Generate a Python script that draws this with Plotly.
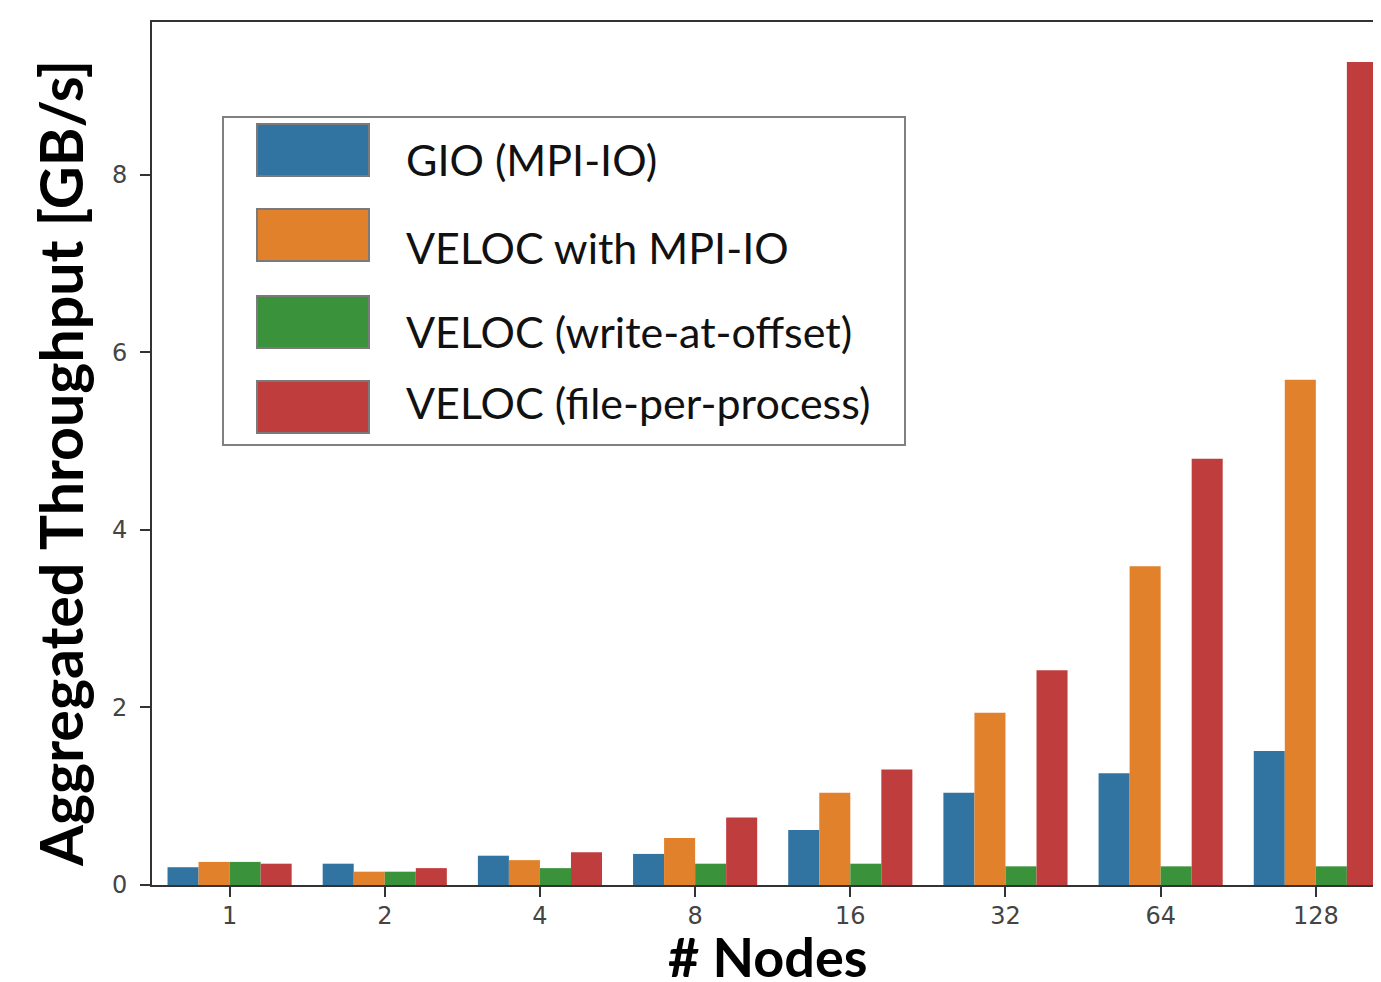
import plotly.graph_objects as go

nodes = ["1", "2", "4", "8", "16", "32", "64", "128"]
series_names = ["GIO (MPI-IO)", "VELOC with MPI-IO", "VELOC (write-at-offset)", "VELOC (file-per-process)"]
gio = [0.20, 0.24, 0.33, 0.35, 0.62, 1.04, 1.26, 1.51]
veloc_mpiio = [0.26, 0.15, 0.28, 0.53, 1.04, 1.94, 3.59, 5.69]
veloc_offset = [0.26, 0.15, 0.19, 0.24, 0.24, 0.21, 0.21, 0.21]
veloc_fpp = [0.24, 0.19, 0.37, 0.76, 1.30, 2.42, 4.80, 9.27]
colors = ["#3274a1", "#e1812c", "#3a923a", "#c03d3e"]
y_ticks = [0, 2, 4, 6, 8]

OFF = 8  # page body margin
W, H = 1381 - OFF, 982 - OFF
L, T, BOT = 152 - OFF, 22 - OFF, 885 - OFF  # plot area edges in figure pixels
PW, PH = W - L, BOT - T


def px(x):
    return (x - OFF - L) / PW


def py(y):
    return (BOT - (y - OFF)) / PH


fig = go.Figure()
for name, vals, c in zip(series_names, [gio, veloc_mpiio, veloc_offset, veloc_fpp], colors):
    fig.add_trace(go.Bar(x=list(range(len(nodes))), y=vals, name=name, marker=dict(color=c, line=dict(width=0)),
                         showlegend=False))

# custom legend (large swatches like the reference)
shapes = [dict(type="rect", xref="paper", yref="paper",
               x0=px(223), x1=px(905), y0=py(445), y1=py(117),
               line=dict(color="#808080", width=2), fillcolor="white", layer="above")]
annotations = []
sw_centers = [150, 235, 322, 407]
tx_centers = [160, 248, 332, 403]
for name, c, yc, ty in zip(series_names, colors, sw_centers, tx_centers):
    shapes.append(dict(type="rect", xref="paper", yref="paper",
                       x0=px(257), x1=px(369), y0=py(yc + 26), y1=py(yc - 26),
                       line=dict(color="#7a7a7a", width=2), fillcolor=c, layer="above"))
    annotations.append(dict(text=name, xref="paper", yref="paper", x=px(404),
                            y=py(ty - 1), xanchor="left", yanchor="middle", showarrow=False,
                            font=dict(family="Lato, Open Sans, sans-serif", size=43, color="#111")))

annotations.append(dict(text="<b>Aggregated Throughput [GB/s]</b>", xref="paper", yref="paper",
                        x=px(60), y=py(464), textangle=-90,
                        xanchor="center", yanchor="middle", showarrow=False,
                        font=dict(family="Lato, Open Sans, sans-serif", size=59, color="black")))
annotations.append(dict(text="<b># Nodes</b>", xref="paper", yref="paper",
                        x=px(767), y=py(957),
                        xanchor="center", yanchor="middle", showarrow=False,
                        font=dict(family="Lato, Open Sans, sans-serif", size=54, color="black")))

fig.update_layout(
    width=W, height=H,
    margin=dict(l=L, r=0, t=T, b=H - BOT),
    plot_bgcolor="white", paper_bgcolor="white",
    barmode="group", bargap=0.2, bargroupgap=0,
    shapes=shapes, annotations=annotations,
    xaxis=dict(range=[-0.5, 7.42], tickmode="array", tickvals=list(range(len(nodes))), ticktext=nodes,
               showline=True, linecolor="#333", linewidth=2, mirror=True, ticks="outside", ticklen=10,
               tickcolor="#333", tickwidth=1.5, showgrid=False, zeroline=False, ticklabelstandoff=-2,
               tickfont=dict(family="DejaVu Sans", size=24, color="#444")),
    yaxis=dict(range=[0, 9.72], tickvals=y_ticks, showline=True, linecolor="#333", linewidth=2,
               ticks="outside", ticklen=10, tickcolor="#333", tickwidth=1.5, showgrid=False, zeroline=False,
               ticklabelstandoff=8,
               tickfont=dict(family="DejaVu Sans", size=24, color="#444")),
)
fig.write_html("out.html")
